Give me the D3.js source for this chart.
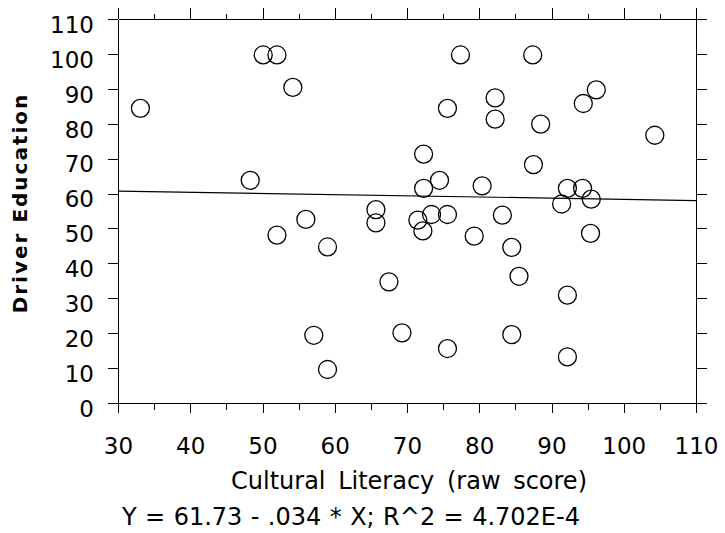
<!DOCTYPE html>
<html>
<head>
<meta charset="utf-8">
<script src="https://cdn.jsdelivr.net/npm/d3@7"></script>
<style>
  body { margin: 0; background: #fff; }
  svg { display: block; }
  .tick line, .domain { stroke: #000; shape-rendering: crispEdges; }
  text { font-family: "DejaVu Sans", Verdana, sans-serif; fill: #000; }
</style>
</head>
<body>
<div class="root"></div>
<script>
var width = 725,
    height = 533,
    margin = {top: 19, right: 29, bottom: 130, left: 118};

// Cultural Literacy (raw score) for each subject
var literacy = [33.1, 48.3, 50.1, 52.0, 54.2, 77.4, 75.6, 82.2, 82.2, 72.3,
                74.5, 72.3, 80.4, 87.4, 96.2, 94.4, 88.5, 104.3, 87.5, 92.2,
                94.3, 95.5, 91.4, 83.2, 95.4, 84.5, 85.5, 92.2, 84.5, 92.2,
                65.7, 65.7, 56.0, 52.0, 59.0, 71.5, 73.4, 75.6, 72.2, 79.3,
                67.5, 57.1, 69.3, 59.0, 75.6];
// Driver Education score for the same subjects
var driverEd = [84.4, 63.8, 99.7, 99.7, 90.4, 99.7, 84.4, 87.4, 81.3, 71.3,
                63.8, 61.5, 62.2, 99.7, 89.7, 85.8, 79.9, 76.7, 68.3, 61.5,
                61.5, 58.4, 57.0, 53.8, 48.6, 44.6, 36.3, 30.9, 19.6, 13.2,
                55.4, 51.6, 52.6, 48.1, 44.7, 52.4, 54.0, 54.0, 49.3, 47.8,
                34.7, 19.4, 20.1, 9.6, 15.6];

var xTicks = [30, 40, 50, 60, 70, 80, 90, 100, 110];
var xMinor = [35, 45, 55, 65, 75, 85, 95, 105];
var yTicks = [0, 10, 20, 30, 40, 50, 60, 70, 80, 90, 100, 110];

// fit line from the caption
var intercept = 61.73,
    slope = -0.034;

var svg = d3.select(".root")
          .append("svg")
          .attr("width", width)
          .attr("height", height);

var x = d3.scaleLinear()
        .domain([30, 110])
        .range([margin.left, width - margin.right]);

var y = d3.scaleLinear()
        .domain([0, 110])
        .range([height - margin.bottom, margin.top]);

// bottom axis
svg.append("g")
  .attr("transform", "translate(0," + y(0) + ")")
  .call(d3.axisBottom(x).tickValues(xMinor).tickSize(7).tickFormat(""))
  .call(g => g.select(".domain").remove());

var bottom = svg.append("g")
  .attr("transform", "translate(0," + y(0) + ")")
  .call(d3.axisBottom(x).tickValues(xTicks).tickSize(10).tickSizeOuter(0).tickPadding(25).tickFormat(d3.format("d")));
bottom.selectAll("text").style("font-size", "23px");

// top axis
svg.append("g")
  .attr("transform", "translate(0," + y(110) + ")")
  .call(d3.axisTop(x).tickValues(xMinor).tickSize(5).tickFormat(""))
  .call(g => g.select(".domain").remove());

svg.append("g")
  .attr("transform", "translate(0," + y(110) + ")")
  .call(d3.axisTop(x).tickValues(xTicks).tickSize(11).tickSizeOuter(0).tickFormat(""));

// left axis
var left = svg.append("g")
  .attr("transform", "translate(" + x(30) + ",0)")
  .call(d3.axisLeft(y).tickValues(yTicks).tickSize(10).tickSizeOuter(0).tickPadding(14).tickFormat(d3.format("d")));
left.selectAll("text").style("font-size", "23px").attr("dy", "0.58em");

// right axis
svg.append("g")
  .attr("transform", "translate(" + x(110) + ",0)")
  .call(d3.axisRight(y).tickValues(yTicks).tickSize(11).tickSizeOuter(0).tickFormat(""));

// regression line
svg.append("line")
  .attr("x1", x(30))
  .attr("y1", y(intercept + slope * 30))
  .attr("x2", x(110))
  .attr("y2", y(intercept + slope * 110))
  .attr("stroke", "#000")
  .attr("stroke-width", 1.2);

// points
svg.append("g")
  .selectAll("circle")
  .data(literacy)
  .enter().append("circle")
    .attr("cx", d => x(d))
    .attr("cy", (d, i) => y(driverEd[i]))
    .attr("r", 9)
    .attr("fill", "none")
    .attr("stroke", "#000")
    .attr("stroke-width", 1.3);

// labels
svg.append("text")
  .attr("x", (x(30) + x(110)) / 2 + 2)
  .attr("y", 489)
  .attr("text-anchor", "middle")
  .style("font-size", "24px")
  .style("word-spacing", "5px")
  .text("Cultural Literacy (raw score)");

svg.append("text")
  .attr("x", 122)
  .attr("y", 525)
  .style("font-size", "24px")
  .style("word-spacing", "0.8px")
  .text("Y = 61.73 - .034 * X; R^2 = 4.702E-4");

svg.append("text")
  .attr("transform", "translate(27," + 203 + ") rotate(-90)")
  .attr("text-anchor", "middle")
  .style("font-size", "20px")
  .style("font-weight", "bold")
  .style("letter-spacing", "2px")
  .text("Driver Education");
</script>
</body>
</html>
